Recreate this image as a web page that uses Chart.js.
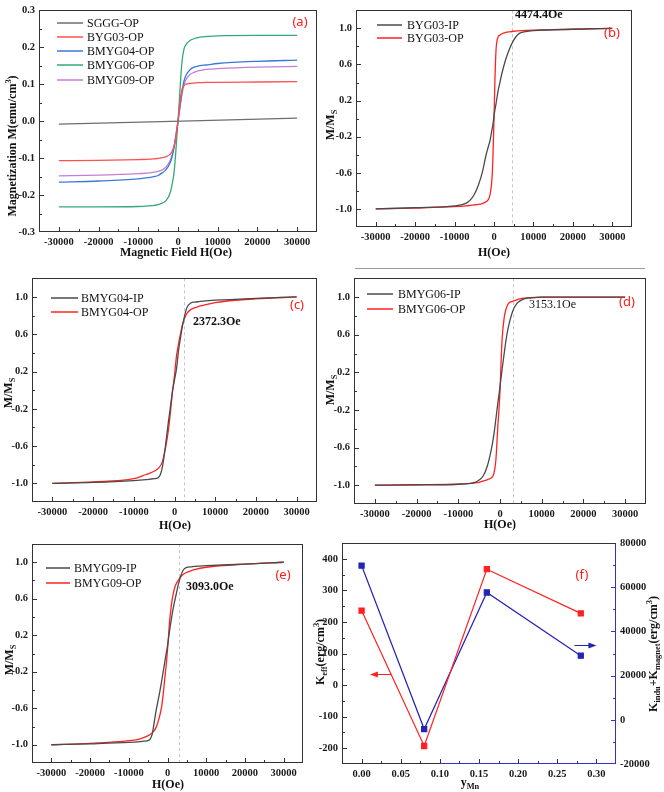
<!DOCTYPE html>
<html>
<head>
<meta charset="utf-8">
<script src="https://cdn.jsdelivr.net/npm/chart.js@4.4.0/dist/chart.umd.min.js"></script>
<style>
  body { margin: 0; background: #fff; width: 664px; height: 792px; position: relative; overflow: hidden; }
  canvas { position: absolute; }
  #rule { position: absolute; left: 355px; top: 268px; width: 290px; border-top: 1px solid #999; }
</style>
</head>
<body>
<canvas id="pa"></canvas>
<canvas id="pb"></canvas>
<canvas id="pc"></canvas>
<canvas id="pd"></canvas>
<canvas id="pe"></canvas>
<canvas id="pf"></canvas>
<div id="rule"></div>
<script>
// ---- data ----
const field = [-30000, -20000, -10000, -7000, -6000, -5000, -4000, -3000, -2000, -1500, -1000, -500, -250, 0,
               250, 500, 1000, 1500, 2000, 3000, 4000, 5000, 6000, 7000, 10000, 20000, 30000];

// (a) magnetization, emu/cm3
const sgggField = [-30000, 30000];
const sgggOP = [-0.008, 0.008];
const byg03OP = [-0.107, -0.106, -0.104, -0.103, -0.102, -0.101, -0.099, -0.096, -0.09, -0.082, -0.068, -0.045, -0.025, 0,
                 0.028, 0.052, 0.085, 0.096, 0.1, 0.102, 0.103, 0.104, 0.104, 0.105, 0.105, 0.106, 0.107];
const bmyg04OP = [-0.165, -0.162, -0.156, -0.152, -0.15, -0.147, -0.14, -0.131, -0.113, -0.097, -0.072, -0.037, -0.018, 0,
                  0.02, 0.04, 0.08, 0.108, 0.124, 0.139, 0.146, 0.149, 0.151, 0.152, 0.156, 0.162, 0.165];
const bmyg06OP = [-0.232, -0.232, -0.231, -0.229, -0.228, -0.226, -0.222, -0.215, -0.195, -0.172, -0.14, -0.075, -0.035, 0,
                  0.04, 0.085, 0.16, 0.195, 0.207, 0.218, 0.223, 0.226, 0.228, 0.229, 0.231, 0.232, 0.232];
const bmyg09OP = [-0.148, -0.146, -0.142, -0.14, -0.138, -0.136, -0.132, -0.124, -0.107, -0.092, -0.07, -0.035, -0.017, 0,
                  0.018, 0.037, 0.072, 0.098, 0.112, 0.126, 0.132, 0.136, 0.138, 0.14, 0.142, 0.146, 0.148];

// (b)-(e) normalised M/Ms
const bIP = [-1, -0.985, -0.965, -0.935, -0.9, -0.84, -0.74, -0.6, -0.4, -0.32, -0.24, -0.12, -0.06, 0.03,
             0.1, 0.16, 0.3, 0.4, 0.5, 0.66, 0.78, 0.87, 0.93, 0.955, 0.975, 0.99, 1];
const bOP = [-1, -0.99, -0.975, -0.965, -0.96, -0.955, -0.95, -0.94, -0.92, -0.9, -0.84, -0.66, -0.4, 0,
             0.45, 0.75, 0.9, 0.925, 0.94, 0.955, 0.962, 0.968, 0.972, 0.975, 0.98, 0.99, 1];
const cIP = [-1, -0.99, -0.97, -0.96, -0.955, -0.95, -0.94, -0.83, -0.52, -0.34, -0.18, -0.01, 0.05, 0.11,
             0.17, 0.23, 0.43, 0.57, 0.7, 0.88, 0.935, 0.945, 0.95, 0.955, 0.965, 0.985, 1];
const cOP = [-1, -0.985, -0.95, -0.905, -0.89, -0.87, -0.84, -0.77, -0.57, -0.43, -0.24, -0.02, 0.07, 0.16,
             0.27, 0.37, 0.5, 0.61, 0.71, 0.82, 0.865, 0.885, 0.9, 0.91, 0.94, 0.98, 1];
const dIP = [-1, -0.995, -0.99, -0.98, -0.97, -0.945, -0.9, -0.79, -0.6, -0.47, -0.3, -0.12, -0.04, 0.05,
             0.14, 0.23, 0.4, 0.56, 0.68, 0.845, 0.93, 0.965, 0.985, 0.99, 1, 1, 1];
const dOP = [-1, -0.998, -0.99, -0.98, -0.975, -0.97, -0.955, -0.94, -0.92, -0.88, -0.74, -0.36, -0.2, 0,
             0.3, 0.55, 0.78, 0.88, 0.93, 0.955, 0.97, 0.985, 0.99, 0.995, 1, 1, 1];
const eIP = [-1, -0.99, -0.975, -0.965, -0.96, -0.955, -0.89, -0.64, -0.42, -0.3, -0.17, -0.04, 0.02, 0.08,
             0.16, 0.24, 0.38, 0.5, 0.6, 0.79, 0.91, 0.945, 0.95, 0.955, 0.962, 0.98, 1];
const eOP = [-1, -0.985, -0.955, -0.935, -0.92, -0.9, -0.87, -0.815, -0.68, -0.58, -0.4, -0.19, -0.09, 0.04,
             0.18, 0.33, 0.53, 0.66, 0.74, 0.815, 0.865, 0.89, 0.905, 0.92, 0.945, 0.98, 1];

// crossing fields marked by the dashed lines
const crossB = 4474.4, crossC = 2372.3, crossD = 3153.1, crossE = 3093.0;

// (f) anisotropy vs Mn content
const yMn = [0, 0.08, 0.16, 0.28];
const kEff = [236, -193, 367, 227];
const kInduMagnet = [69800, -4200, 57600, 29000];

// tick labels
const fieldTicks = [-30000, -20000, -10000, 0, 10000, 20000, 30000];
const magTicks = [-0.3, -0.2, -0.1, 0, 0.1, 0.2, 0.3];
const normTicks = [-1.0, -0.6, -0.2, 0.2, 0.6, 1.0];
const yMnTicks = [0, 0.05, 0.1, 0.15, 0.2, 0.25, 0.3];
const kEffTicks = [-200, -100, 0, 100, 200, 300, 400];
const kRightTicks = [-20000, 0, 20000, 40000, 60000, 80000];

// ---- drawing helpers ----
const serif = '"Liberation Serif", "Times New Roman", serif';
const sans = '"Noto Sans", "DejaVu Sans", sans-serif';
const GRAY = '#4a4a4a', RED = '#ff2222';

function pts(xs, ys) { return xs.map((x, i) => ({ x: x, y: ys[i] })); }
function curve(label, xs, ys, color) {
  return { label: label, data: pts(xs, ys), borderColor: color, backgroundColor: color,
           borderWidth: 1.3, pointRadius: 0, cubicInterpolationMode: 'monotone', fill: false };
}

// rich text: parts = [[text, kind]] kind 0 normal, -1 sub, 1 sup
function richDraw(ctx, parts, x, y, size, bold, rot, color) {
  const w = bold ? 'bold ' : '';
  let total = 0;
  parts.forEach(p => {
    ctx.font = w + (p[1] ? size * 0.7 : size) + 'px ' + serif;
    total += ctx.measureText(p[0]).width;
  });
  ctx.save();
  ctx.translate(x, y);
  if (rot) ctx.rotate(-Math.PI / 2);
  ctx.fillStyle = color || '#111';
  ctx.textBaseline = 'middle';
  ctx.textAlign = 'left';
  let cx = -total / 2;
  parts.forEach(p => {
    ctx.font = w + (p[1] ? size * 0.7 : size) + 'px ' + serif;
    const dy = p[1] === -1 ? size * 0.28 : p[1] === 1 ? -size * 0.35 : 0;
    ctx.fillText(p[0], cx, dy);
    cx += ctx.measureText(p[0]).width;
  });
  ctx.restore();
}

function inwardTicks(ctx, scale, majors, side, area, color) {
  const step = majors[1] - majors[0];
  const minors = [];
  for (let i = 0; i < majors.length - 1; i++) minors.push((majors[i] + majors[i + 1]) / 2);
  minors.push(majors[0] - step / 2, majors[majors.length - 1] + step / 2);
  ctx.strokeStyle = color;
  ctx.lineWidth = 1;
  const one = (v, len) => {
    if (v <= scale.min || v >= scale.max) return;
    const p = Math.round(scale.getPixelForValue(v)) + 0.5;
    ctx.beginPath();
    if (side === 'bottom') { ctx.moveTo(p, area.bottom); ctx.lineTo(p, area.bottom - len); }
    if (side === 'left') { ctx.moveTo(area.left, p); ctx.lineTo(area.left + len, p); }
    if (side === 'right') { ctx.moveTo(area.right, p); ctx.lineTo(area.right - len, p); }
    ctx.stroke();
  };
  majors.forEach(v => one(v, 5));
  minors.forEach(v => one(v, 3));
}

function arrow(ctx, x0, x1, y, color) {
  ctx.strokeStyle = color; ctx.fillStyle = color; ctx.lineWidth = 1;
  const dir = Math.sign(x1 - x0);
  ctx.beginPath(); ctx.moveTo(x0, y); ctx.lineTo(x1 - dir * 6, y); ctx.stroke();
  ctx.beginPath(); ctx.moveTo(x1, y); ctx.lineTo(x1 - dir * 8, y - 3); ctx.lineTo(x1 - dir * 8, y + 3);
  ctx.closePath(); ctx.fill();
}

const panels = {};

const deco = {
  id: 'deco',
  beforeDatasetsDraw(chart) {
    const o = panels[chart.canvas.id];
    if (o.mark == null) return;
    const ctx = chart.ctx, a = chart.chartArea;
    const px = Math.round(chart.scales.x.getPixelForValue(o.mark)) + 0.5;
    ctx.save();
    ctx.strokeStyle = '#c4c4c4'; ctx.lineWidth = 1; ctx.setLineDash([3, 3]);
    ctx.beginPath(); ctx.moveTo(px, a.top); ctx.lineTo(px, a.bottom); ctx.stroke();
    ctx.restore();
  },
  afterDraw(chart) {
    const o = panels[chart.canvas.id];
    const ctx = chart.ctx, a = chart.chartArea;
    const ox = o.box[0], oy = o.box[1];
    ctx.save();
    // frame
    const l = Math.round(a.left) + 0.5, t = Math.round(a.top) + 0.5;
    const r = Math.round(a.right) - 0.5, b = Math.round(a.bottom) - 0.5;
    ctx.strokeStyle = '#333'; ctx.lineWidth = 1;
    ctx.strokeRect(l, t, r - l, b - t);
    inwardTicks(ctx, chart.scales.x, o.xTicks, 'bottom', a, '#333');
    inwardTicks(ctx, chart.scales.y, o.yTicks, 'left', a, '#333');
    if (o.y2Ticks) {
      const blue = '#3434c4';
      ctx.strokeStyle = blue;
      ctx.beginPath(); ctx.moveTo(r, t); ctx.lineTo(r, b); ctx.stroke();
      const bx = chart.scales.x.getPixelForValue(0.1);
      ctx.beginPath(); ctx.moveTo(bx, b); ctx.lineTo(r, b); ctx.stroke();
      inwardTicks(ctx, chart.scales.y2, o.y2Ticks, 'right', a, blue);
    }
    // legend
    if (o.legend) {
      const lg = o.legend;
      chart.data.datasets.forEach((ds, i) => {
        const y = lg.rows[i] - oy;
        ctx.strokeStyle = ds.borderColor; ctx.lineWidth = 1.5;
        ctx.beginPath(); ctx.moveTo(lg.x1 - ox, y); ctx.lineTo(lg.x2 - ox, y); ctx.stroke();
        ctx.fillStyle = '#111'; ctx.font = lg.size + 'px ' + serif;
        ctx.textBaseline = 'middle'; ctx.textAlign = 'left';
        ctx.fillText(ds.label, lg.xt - ox, y + 0.5);
      });
    }
    // panel tag
    ctx.fillStyle = '#ff1a1a'; ctx.font = '13px ' + sans;
    ctx.textAlign = 'center'; ctx.textBaseline = 'middle';
    ctx.fillText(o.tag[0], o.tag[1] - ox, o.tag[2] - oy);
    // crossing-field note
    if (o.note) {
      ctx.fillStyle = '#111'; ctx.font = (o.note[3] ? 'bold ' : '') + '12px ' + serif;
      ctx.textAlign = 'left';
      ctx.fillText(o.note[0], o.note[1] - ox, o.note[2] - oy);
    }
    // arrows
    (o.arrows || []).forEach(ar => {
      const s = chart.scales[ar.axis], xs = chart.scales.x;
      arrow(ctx, xs.getPixelForValue(ar.x0), xs.getPixelForValue(ar.x1), Math.round(s.getPixelForValue(ar.y)) + 0.5, ar.color);
    });
    // axis titles
    o.titles.forEach(tt => richDraw(ctx, tt.parts, tt.x - ox, tt.y - oy, tt.size || 12, true, tt.rot, '#111'));
    ctx.restore();
  }
};

function axis(ticks, min, max, fmt, pos, fit) {
  return {
    type: 'linear', position: pos, min: min, max: max,
    grid: { display: false, drawTicks: false }, border: { display: false },
    ticks: { font: { family: serif, size: 10.5, weight: 'bold' }, color: '#1a1a1a', padding: 4,
             maxRotation: 0, autoSkip: false, callback: v => fmt(v) },
    afterBuildTicks: s => { s.ticks = ticks.map(v => ({ value: v })); },
    afterFit: fit
  };
}

function makePanel(id, p) {
  panels[id] = p;
  const cv = document.getElementById(id);
  const [cx, cy, cw, ch] = p.box;
  const [L, T, R, B] = p.plot;
  cv.width = cw; cv.height = ch;
  cv.style.left = cx + 'px'; cv.style.top = cy + 'px';
  const scales = {
    x: axis(p.xTicks, p.xRange[0], p.xRange[1], p.xFmt, 'bottom', s => { s.height = cy + ch - B; }),
    y: axis(p.yTicks, p.yRange[0], p.yRange[1], p.yFmt, 'left', s => { s.width = L - cx; })
  };
  if (p.y2Ticks) scales.y2 = axis(p.y2Ticks, p.y2Range[0], p.y2Range[1], v => String(v), 'right', s => { s.width = cx + cw - R; });
  new Chart(cv, {
    type: 'line',
    data: { datasets: p.datasets },
    options: {
      responsive: false, animation: false, events: [],
      layout: { autoPadding: false, padding: { left: 0, top: T - cy, right: p.y2Ticks ? 0 : cx + cw - R, bottom: 0 } },
      plugins: { legend: { display: false }, tooltip: { enabled: false } },
      scales: scales
    },
    plugins: [deco]
  });
}

const intFmt = v => String(v);
const f1 = v => v.toFixed(1);
const H_RANGE = [-35000, 35000];
const N_RANGE = [-1.2, 1.2];
const MMs = [['M/M', 0], ['S', -1]];

makePanel('pa', {
  box: [0, 0, 330, 268], plot: [39, 7, 317, 232],
  xRange: H_RANGE, yRange: [-0.3, 0.3], xTicks: fieldTicks, yTicks: magTicks, xFmt: intFmt, yFmt: f1,
  datasets: [
    curve('SGGG-OP', sgggField, sgggOP, '#6e6e6e'),
    curve('BYG03-OP', field, byg03OP, '#ff5050'),
    curve('BMYG04-OP', field, bmyg04OP, '#3a7ad6'),
    curve('BMYG06-OP', field, bmyg06OP, '#35a878'),
    curve('BMYG09-OP', field, bmyg09OP, '#c47dd8')
  ],
  legend: { x1: 57, x2: 83, xt: 87, rows: [23, 37, 51, 65, 80], size: 12 },
  tag: ['(a)', 300, 22],
  titles: [
    { parts: [['Magnetic Field H(Oe)', 0]], x: 176, y: 253 },
    { parts: [['Magnetization M(emu/cm', 0], ['3', 1], [')', 0]], x: 13, y: 146, rot: true }
  ]
});

makePanel('pb', {
  box: [318, 0, 346, 268], plot: [356, 3, 632, 227],
  xRange: H_RANGE, yRange: N_RANGE, xTicks: fieldTicks, yTicks: normTicks, xFmt: intFmt, yFmt: f1,
  datasets: [curve('BYG03-IP', field, bIP, GRAY), curve('BYG03-OP', field, bOP, RED)],
  mark: crossB, note: ['4474.4Oe', 515, 15, true],
  legend: { x1: 377, x2: 402, xt: 407, rows: [25, 38], size: 12 },
  tag: ['(b)', 612, 33],
  titles: [
    { parts: [['H(Oe)', 0]], x: 494, y: 253 },
    { parts: MMs, x: 331, y: 125, rot: true }
  ]
});

makePanel('pc', {
  box: [0, 268, 330, 272], plot: [32, 272, 317, 502],
  xRange: H_RANGE, yRange: N_RANGE, xTicks: fieldTicks, yTicks: normTicks, xFmt: intFmt, yFmt: f1,
  datasets: [curve('BMYG04-IP', field, cIP, GRAY), curve('BMYG04-OP', field, cOP, RED)],
  mark: crossC, note: ['2372.3Oe', 193, 322, true],
  legend: { x1: 51, x2: 78, xt: 81, rows: [298, 312], size: 12 },
  tag: ['(c)', 297, 305],
  titles: [
    { parts: [['H(Oe)', 0]], x: 175, y: 526 },
    { parts: MMs, x: 9, y: 393, rot: true }
  ]
});

makePanel('pd', {
  box: [318, 268, 346, 272], plot: [354, 270, 646, 504],
  xRange: H_RANGE, yRange: N_RANGE, xTicks: fieldTicks, yTicks: normTicks, xFmt: intFmt, yFmt: f1,
  datasets: [curve('BMYG06-IP', field, dIP, GRAY), curve('BMYG06-OP', field, dOP, RED)],
  mark: crossD, note: ['3153.1Oe', 529, 305, false],
  legend: { x1: 367, x2: 393, xt: 398, rows: [294, 309], size: 12 },
  tag: ['(d)', 627, 302],
  titles: [
    { parts: [['H(Oe)', 0]], x: 500, y: 525 },
    { parts: MMs, x: 331, y: 390, rot: true }
  ]
});

makePanel('pe', {
  box: [0, 530, 330, 262], plot: [32, 544, 303, 763],
  xRange: H_RANGE, yRange: N_RANGE, xTicks: fieldTicks, yTicks: normTicks, xFmt: intFmt, yFmt: f1,
  datasets: [curve('BMYG09-IP', field, eIP, GRAY), curve('BMYG09-OP', field, eOP, RED)],
  mark: crossE, note: ['3093.0Oe', 186, 587, true],
  legend: { x1: 46, x2: 70, xt: 74, rows: [568, 583], size: 12 },
  tag: ['(e)', 283, 575],
  titles: [
    { parts: [['H(Oe)', 0]], x: 168, y: 785 },
    { parts: MMs, x: 10, y: 660, rot: true }
  ]
});

makePanel('pf', {
  box: [300, 530, 364, 262], plot: [342, 543, 616, 764],
  xRange: [-0.025, 0.325], yRange: [-250, 450], y2Range: [-20000, 80000],
  xTicks: yMnTicks, yTicks: kEffTicks, y2Ticks: kRightTicks,
  xFmt: v => v.toFixed(2), yFmt: intFmt,
  datasets: [
    { label: 'Keff', data: pts(yMn, kEff), yAxisID: 'y', borderColor: '#ff2020', backgroundColor: '#ff2020',
      borderWidth: 1.2, pointStyle: 'rect', pointRadius: 3.6, tension: 0 },
    { label: 'Kindu+Kmagnet', data: pts(yMn, kInduMagnet), yAxisID: 'y2', borderColor: '#2424b4', backgroundColor: '#2424b4',
      borderWidth: 1.2, pointStyle: 'rect', pointRadius: 3.6, tension: 0 }
  ],
  arrows: [
    { axis: 'y', y: 35, x0: 0.038, x1: 0.0106, color: '#ff2020' },
    { axis: 'y2', y: 33900, x0: 0.272, x1: 0.30, color: '#2424b4' }
  ],
  tag: ['(f)', 582, 575],
  titles: [
    { parts: [['y', 0], ['Mn', -1]], x: 470, y: 783 },
    { parts: [['K', 0], ['eff', -1], ['(erg/cm', 0], ['3', 1], [')', 0]], x: 321, y: 652, rot: true },
    { parts: [['K', 0], ['indu', -1], ['+K', 0], ['magnet', -1], ['(erg/cm', 0], ['3', 1], [')', 0]], x: 654, y: 654, rot: true }
  ]
});
</script>
</body>
</html>
